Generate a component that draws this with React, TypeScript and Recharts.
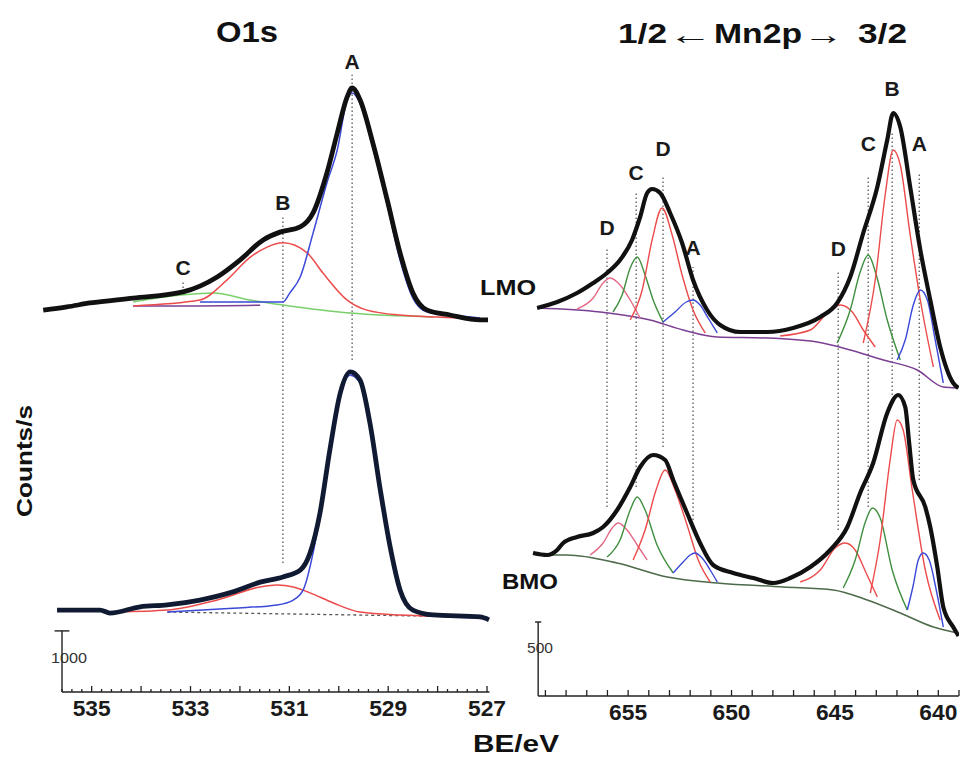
import React from "react";
import { LineChart, Line, XAxis, YAxis, ReferenceLine, ReferenceDot } from "recharts";

// binding energy (eV) / counts pairs (curves are stacked)
const O1S_LMO_TOTAL = [[535.98,11750],[535.5,11850],[535.03,11970],[534.16,12120],[533.15,12310],[532.46,12770],[532.0,13290],[531.53,13910],[531.19,14150],[530.78,14310],[530.52,14740],[530.24,15970],[530.03,17200],[529.83,18310],[529.73,18590],[529.57,18220],[529.31,16890],[529.02,15140],[528.76,13510],[528.5,12280],[528.21,11750],[527.75,11600],[527.14,11450],[526.98,11450]];
const O1S_LMO_A = [[532.81,12000],[531.13,12000],[530.99,12280],[530.78,12770],[530.52,14120],[530.24,15660],[530.03,16680],[529.83,18220],[529.73,18430],[529.57,18120],[529.31,16740],[529.02,14990],[528.76,13290],[528.5,12120],[528.21,11690],[527.75,11600],[527.14,11510]];
const O1S_LMO_B = [[534.16,11880],[532.81,12060],[532.26,12680],[531.79,13380],[531.45,13690],[531.13,13820],[530.64,13510],[530.32,12890],[529.83,12060],[529.43,11750],[528.76,11600],[527.4,11510]];
const O1S_LMO_C = [[534.16,12000],[533.15,12220],[532.54,12280],[531.79,12060],[531.13,11910],[529.77,11660],[528.09,11540]];
const O1S_LMO_BASE = [[534.16,11880],[532.81,11880],[531.59,11900]];

const O1S_BMO_TOTAL = [[535.7,2520],[534.83,2520],[534.63,2430],[534.02,2620],[533.47,2680],[532.81,2830],[532.14,3080],[531.59,3380],[531.13,3540],[530.78,3750],[530.58,4280],[530.38,5510],[530.18,7450],[529.97,9200],[529.77,9850],[529.57,9600],[529.37,8280],[529.16,6220],[528.96,4460],[528.76,3140],[528.5,2520],[528.09,2370],[527.14,2310],[526.96,2220]];
const O1S_BMO_A = [[533.47,2460],[532.14,2580],[531.25,2680],[530.92,2830],[530.72,3140],[530.52,4280],[530.38,5450],[530.18,7380],[529.97,9140],[529.77,9750],[529.57,9510],[529.37,8180],[529.16,6120],[528.96,4370],[528.76,3080],[528.5,2490],[528.09,2340],[527.14,2280]];
const O1S_BMO_B = [[534.49,2460],[533.47,2520],[532.46,2830],[531.59,3230],[531.25,3290],[530.92,3230],[530.58,3050],[530.11,2740],[529.57,2460],[528.76,2370],[527.14,2310]];
const O1S_BMO_BASE = [[533.47,2460],[527.14,2310]];

const MN_LMO_TOTAL = [[659.4,3880],[658.43,3940],[657.47,4030],[656.69,4130],[656.02,4230],[655.39,4360],[654.81,4560],[654.42,4790],[654.08,5030],[653.84,5070],[653.45,5030],[652.97,4830],[652.39,4530],[651.86,4160],[651.18,3860],[650.55,3710],[649.58,3640],[648.28,3640],[647.02,3680],[645.71,3790],[644.89,3930],[644.26,4190],[643.63,4630],[642.95,5090],[642.47,5560],[642.18,5830],[641.84,5690],[641.36,5090],[640.87,4460],[640.39,3960],[639.91,3490],[639.28,3130],[639.03,3080]];
const MN_LMO_BASE = [[659.4,3880],[656.35,3840],[653.94,3760],[652.34,3660],[650.69,3590],[648.28,3580],[645.86,3540],[644.26,3460],[642.66,3360],[641.02,3260],[639.76,3090],[639.08,3080]];
const MN_LMO_D12 = [[657.47,3870],[656.69,3980],[656.21,4130],[655.87,4180],[655.39,4110],[654.9,3960],[654.42,3780]];
const MN_LMO_C12 = [[655.73,3840],[655.29,4010],[654.9,4280],[654.56,4390],[654.18,4210],[653.79,3960],[653.31,3740]];
const MN_LMO_B12 = [[654.9,3760],[654.32,4060],[653.84,4560],[653.36,4880],[652.87,4610],[652.39,4210],[651.86,3860],[651.27,3630]];
const MN_LMO_A12 = [[653.31,3740],[652.73,3840],[652.19,3940],[651.86,3960],[651.52,3910],[651.13,3780],[650.69,3630]];
const MN_LMO_D32 = [[647.65,3600],[646.19,3660],[645.32,3840],[644.74,3910],[644.16,3840],[643.63,3660],[643.05,3490]];
const MN_LMO_C32 = [[644.89,3530],[644.26,3860],[643.78,4240],[643.39,4410],[643.0,4210],[642.47,3760],[641.84,3360]];
const MN_LMO_B32 = [[643.63,3530],[643.05,4160],[642.57,5010],[642.18,5460],[641.84,5310],[641.36,4610],[640.87,3960],[640.24,3290]];
const MN_LMO_A32 = [[641.99,3360],[641.6,3560],[641.21,3910],[640.87,4060],[640.53,3960],[640.15,3560],[639.76,3130]];

const MN_BMO_TOTAL = [[659.6,1430],[658.92,1410],[658.43,1460],[658.14,1530],[657.47,1590],[656.69,1630],[656.21,1690],[655.53,1860],[654.9,2090],[654.42,2290],[653.79,2410],[653.21,2360],[652.82,2160],[652.15,1830],[651.52,1530],[650.89,1310],[649.92,1230],[648.95,1180],[647.98,1130],[647.16,1180],[646.19,1290],[645.23,1460],[644.4,1690],[643.78,2030],[643.15,2330],[642.47,2830],[641.94,3010],[641.6,2890],[641.41,2530],[641.21,2160],[640.63,1890],[640.39,1690],[640.05,1290],[639.76,890],[639.28,690],[639.02,600]];
const MN_BMO_BASE = [[658.92,1410],[657.95,1410],[655.53,1330],[653.11,1190],[650.69,1130],[647.5,1090],[645.08,1060],[643.44,960],[641.84,830],[640.24,690],[639.08,630]];
const MN_BMO_D12 = [[656.84,1410],[656.21,1530],[655.77,1680],[655.48,1730],[655.05,1660],[654.56,1510],[654.08,1360]];
const MN_BMO_C12 = [[656.02,1390],[655.39,1560],[654.9,1860],[654.56,1990],[654.18,1860],[653.6,1510],[652.82,1230]];
const MN_BMO_B12 = [[654.76,1360],[654.18,1660],[653.65,2060],[653.21,2260],[652.73,2060],[652.15,1710],[651.61,1360],[651.03,1140]];
const MN_BMO_A12 = [[652.82,1230],[652.34,1340],[652.0,1410],[651.76,1430],[651.42,1380],[651.03,1260],[650.69,1140]];
const MN_BMO_D32 = [[646.68,1140],[645.71,1260],[644.99,1480],[644.5,1530],[644.02,1460],[643.49,1230],[642.95,990]];
const MN_BMO_C32 = [[644.6,1080],[644.02,1360],[643.53,1740],[643.19,1880],[642.81,1780],[642.23,1260],[641.5,860]];
const MN_BMO_B32 = [[643.29,1030],[642.81,1560],[642.33,2360],[641.99,2760],[641.7,2660],[641.26,2060],[640.63,1260],[639.91,760]];
const MN_BMO_A32 = [[641.5,860],[641.21,1110],[640.97,1360],[640.73,1430],[640.44,1360],[640.1,1060],[639.76,690]];

// peak markers: letter, energy, label height, dotted line top / bottom (counts)
const O1S_MARKERS = [
  { label: "A", e: 529.73, text: 19390, top: 18990, bottom: 10215 },
  { label: "B", e: 531.13, text: 15050, top: 14680, bottom: 3970 },
  { label: "C", e: 533.15, text: 13050, top: 12680, bottom: 12310 },
];
const MN_MARKERS = [
  { label: "D", e: 656.02, text: 4690, top: 4480, bottom: 1890 },
  { label: "C", e: 654.61, text: 5240, top: 5040, bottom: 2090 },
  { label: "D", e: 653.31, text: 5480, top: 5190, bottom: 2490 },
  { label: "A", e: 651.86, text: 4490, top: 4290, bottom: 1760 },
  { label: "D", e: 644.84, text: 4480, top: 4240, bottom: 1660 },
  { label: "C", e: 643.39, text: 5530, top: 5190, bottom: 1890 },
  { label: "B", e: 642.23, text: 6080, top: 5630, bottom: 3010 },
  { label: "A", e: 640.92, text: 5530, top: 5240, bottom: 2160 },
];

const O1S_TICK_LABELS = [535, 533, 531, 529, 527];
const MN_TICK_LABELS = [655, 650, 645, 640];

const FONT = '"Liberation Sans", Arial, sans-serif';
const BLUE = "#3a48d8";
const RED = "#ec4b4b";
const GREEN = "#3f8f3f";
const LGREEN = "#79cf6a";
const PINK = "#e46a86";
const PURPLE = "#7b3f93";

const toPts = (rows: number[][]) => rows.map(([e, v]) => ({ e, v }));

const o1sTicks: number[] = [];
for (let i = 0; i <= 43; i++) o1sTicks.push(Math.round((527 + i * 0.2) * 10) / 10);
const mnTicks: number[] = [];
for (let v = 639; v <= 659; v++) mnTicks.push(v);

const makeTick = (labels: number[], tallAll: boolean) => (p: any) => {
  const v = p.payload.value;
  const tall = tallAll || Math.abs(v - Math.round(v)) < 1e-6;
  const lab = labels.some((l) => Math.abs(l - v) < 1e-6);
  return (
    <g>
      <line x1={p.x} x2={p.x} y1={p.y} y2={p.y - (tall ? 6 : 3)} stroke="#222" strokeWidth={1.3} />
      {lab && (
        <text x={p.x} y={p.y + 16} textAnchor="middle" dominantBaseline="central" fontSize={22} fontWeight="bold" fontFamily={FONT} fill="#1a1a1a" textLength={38} lengthAdjust="spacingAndGlyphs">
          {v}
        </text>
      )}
    </g>
  );
};

type Series = { rows: number[][]; color: string; w: number; dash?: string };

const renderSeries = (list: Series[]) =>
  list.map((s, i) => (
    <Line
      key={i}
      data={toPts(s.rows)}
      dataKey="v"
      type="monotone"
      stroke={s.color}
      strokeWidth={s.w}
      strokeDasharray={s.dash}
      dot={false}
      activeDot={false}
      isAnimationActive={false}
    />
  ));

const renderMarkers = (list: typeof O1S_MARKERS, size: number) =>
  list.flatMap((m, i) => [
    <ReferenceLine
      key={"l" + i}
      segment={[{ x: m.e, y: m.bottom }, { x: m.e, y: m.top }]}
      stroke="#666"
      strokeWidth={1.4}
      strokeDasharray="1.5 2.5"
    />,
    <ReferenceDot
      key={"t" + i}
      x={m.e}
      y={m.text}
      r={0}
      shape={(p: any) => (
        <text x={p.cx} y={p.cy} textAnchor="middle" dominantBaseline="central" fontSize={size} fontWeight="bold" fontFamily={FONT} fill="#1a1a1a">
          {m.label}
        </text>
      )}
    />,
  ]);

const O1S_SERIES: Series[] = [
  { rows: O1S_LMO_BASE, color: PURPLE, w: 1.5 },
  { rows: O1S_LMO_C, color: LGREEN, w: 1.5 },
  { rows: O1S_LMO_B, color: RED, w: 1.5 },
  { rows: O1S_LMO_A, color: BLUE, w: 1.5 },
  { rows: O1S_LMO_TOTAL, color: "#111", w: 4.8 },
  { rows: O1S_BMO_BASE, color: "#555", w: 1.3, dash: "3 3" },
  { rows: O1S_BMO_B, color: RED, w: 1.5 },
  { rows: O1S_BMO_A, color: BLUE, w: 1.5 },
  { rows: O1S_BMO_TOTAL, color: "#111a33", w: 4.8 },
];

const MN_SERIES: Series[] = [
  { rows: MN_LMO_BASE, color: PURPLE, w: 1.5 },
  { rows: MN_LMO_D12, color: PINK, w: 1.4 },
  { rows: MN_LMO_C12, color: GREEN, w: 1.4 },
  { rows: MN_LMO_B12, color: RED, w: 1.4 },
  { rows: MN_LMO_A12, color: BLUE, w: 1.4 },
  { rows: MN_LMO_D32, color: RED, w: 1.4 },
  { rows: MN_LMO_C32, color: GREEN, w: 1.4 },
  { rows: MN_LMO_B32, color: RED, w: 1.4 },
  { rows: MN_LMO_A32, color: BLUE, w: 1.4 },
  { rows: MN_LMO_TOTAL, color: "#111", w: 4.2 },
  { rows: MN_BMO_BASE, color: "#4d6a4a", w: 1.5 },
  { rows: MN_BMO_D12, color: PINK, w: 1.4 },
  { rows: MN_BMO_C12, color: GREEN, w: 1.4 },
  { rows: MN_BMO_B12, color: RED, w: 1.4 },
  { rows: MN_BMO_A12, color: BLUE, w: 1.4 },
  { rows: MN_BMO_D32, color: RED, w: 1.4 },
  { rows: MN_BMO_C32, color: GREEN, w: 1.4 },
  { rows: MN_BMO_B32, color: RED, w: 1.4 },
  { rows: MN_BMO_A32, color: BLUE, w: 1.4 },
  { rows: MN_BMO_TOTAL, color: "#111", w: 4.2 },
];

const O1sPanel = () => (
  <LineChart width={530} height={760} margin={{ top: 42, right: 40, bottom: 67, left: 20 }}>
    <XAxis
      dataKey="e"
      type="number"
      domain={[526.94, 536.45]}
      reversed
      allowDataOverflow
      ticks={o1sTicks}
      interval={0}
      axisLine={false}
      tickLine={false}
      tickSize={0}
      tickMargin={0}
      height={1}
      tick={makeTick(O1S_TICK_LABELS, false)}
    />
    <YAxis type="number" domain={[0, 20000]} hide width={0} allowDataOverflow />
    <ReferenceLine segment={[{ x: 535.6, y: 0 }, { x: 526.95, y: 0 }]} stroke="#222" strokeWidth={1.6} />
    <ReferenceLine segment={[{ x: 535.6, y: 0 }, { x: 535.6, y: 1880 }]} stroke="#222" strokeWidth={1.4} />
    <ReferenceLine segment={[{ x: 535.75, y: 1880 }, { x: 535.45, y: 1880 }]} stroke="#222" strokeWidth={1.4} />
    {renderMarkers(O1S_MARKERS, 21)}
    {renderSeries(O1S_SERIES)}
  </LineChart>
);

const MnPanel = () => (
  <LineChart width={461} height={760} margin={{ top: 46, right: 2, bottom: 63, left: 15 }}>
    <XAxis
      dataKey="e"
      type="number"
      domain={[639, 660.47]}
      reversed
      allowDataOverflow
      ticks={mnTicks}
      interval={0}
      axisLine={false}
      tickLine={false}
      tickSize={0}
      tickMargin={0}
      height={1}
      tick={makeTick(MN_TICK_LABELS, true)}
    />
    <YAxis type="number" domain={[0, 6500]} hide width={0} allowDataOverflow />
    <ReferenceLine segment={[{ x: 659.35, y: 0 }, { x: 639.01, y: 0 }]} stroke="#222" strokeWidth={1.6} />
    <ReferenceLine segment={[{ x: 659.35, y: 0 }, { x: 659.35, y: 740 }]} stroke="#222" strokeWidth={1.4} />
    <ReferenceLine segment={[{ x: 659.5, y: 740 }, { x: 659.2, y: 740 }]} stroke="#222" strokeWidth={1.4} />
    {renderMarkers(MN_MARKERS, 21)}
    {renderSeries(MN_SERIES)}
  </LineChart>
);

export default function App() {
  const txt = { fontFamily: FONT, fontWeight: "bold" as const, fill: "#111", dominantBaseline: "central" as const, lengthAdjust: "spacingAndGlyphs" };
  return (
    <div style={{ position: "absolute", left: 0, top: 0, width: 961, height: 760, background: "#fff", overflow: "hidden" }}>
      <div style={{ position: "absolute", left: 0, top: 0 }}>
        <O1sPanel />
      </div>
      <div style={{ position: "absolute", left: 500, top: 0 }}>
        <MnPanel />
      </div>
      <svg width={961} height={760} style={{ position: "absolute", left: 0, top: 0, pointerEvents: "none" }}>
        <text x={216} y={32} fontSize={29} textLength={62} {...txt}>O1s</text>
        <text x={618} y={34} fontSize={27} textLength={49} {...txt}>1/2</text>
        <text x={668} y={35} fontSize={27} textLength={44} {...txt}>←</text>
        <text x={714} y={34} fontSize={27} textLength={88} {...txt}>Mn2p</text>
        <text x={803} y={35} fontSize={27} textLength={40} {...txt}>→</text>
        <text x={858} y={34} fontSize={27} textLength={49} {...txt}>3/2</text>
        <text x={24} y={461} textAnchor="middle" fontSize={22} textLength={112} transform="rotate(-90 24 461)" {...txt}>Counts/s</text>
        <text x={473} y={744} fontSize={23} textLength={86} {...txt}>BE/eV</text>
        <text x={480} y={287} fontSize={22} textLength={56} {...txt}>LMO</text>
        <text x={502} y={581} fontSize={22} textLength={56} {...txt}>BMO</text>
        <text x={69} y={657} textAnchor="middle" dominantBaseline="central" fontSize={15} textLength={36} lengthAdjust="spacingAndGlyphs" fontFamily={FONT} fill="#333">1000</text>
        <text x={540} y={647} textAnchor="middle" dominantBaseline="central" fontSize={15} textLength={26} lengthAdjust="spacingAndGlyphs" fontFamily={FONT} fill="#333">500</text>
      </svg>
    </div>
  );
}
